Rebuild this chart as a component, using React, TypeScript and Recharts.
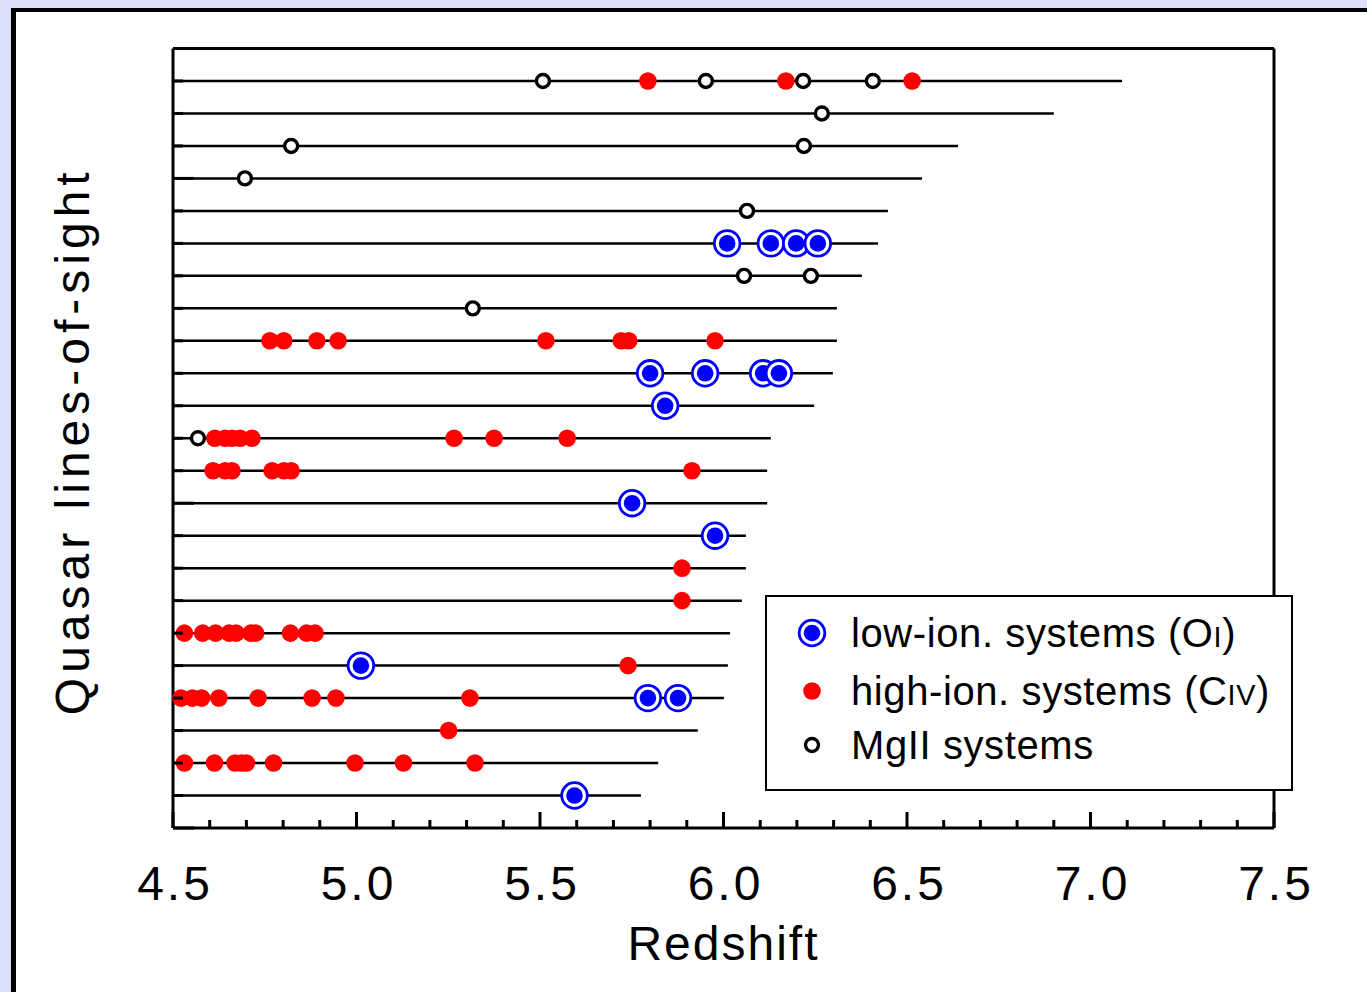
import React from "react";
import {
  Legend,
  ReferenceLine,
  Scatter,
  ScatterChart,
  XAxis,
  YAxis,
} from "recharts";

// Quasar sightlines, numbered from the bottom row (1) to the top row (23),
// each ending at the redshift of its quasar.
const sightlineEnds = [
  5.775, 5.822, 5.93, 6.001, 6.012, 6.018, 6.05, 6.061, 6.061, 6.119, 6.119, 6.129,
  6.247, 6.298, 6.309, 6.309, 6.377, 6.421, 6.448, 6.541, 6.639, 6.9, 7.086,
];

// Absorber redshifts along each sightline: [sightline, redshift]
const oiSystems: [number, number][] = [
  [1, 5.594],
  [4, 5.794], [4, 5.876],
  [5, 5.012],
  [9, 5.977],
  [10, 5.751],
  [13, 5.841],
  [14, 5.8], [14, 5.95], [14, 6.108], [14, 6.151],
  [18, 6.01], [18, 6.129], [18, 6.198], [18, 6.257],
];

const civSystems: [number, number][] = [
  [2, 4.531], [2, 4.613], [2, 4.669], [2, 4.686], [2, 4.7], [2, 4.774], [2, 4.996], [2, 5.128], [2, 5.323],
  [3, 5.251],
  [4, 4.522], [4, 4.553], [4, 4.578], [4, 4.625], [4, 4.732], [4, 4.879], [4, 4.944], [4, 5.309],
  [5, 5.74],
  [6, 4.531], [6, 4.581], [6, 4.616], [6, 4.653], [6, 4.672], [6, 4.712], [6, 4.725], [6, 4.82], [6, 4.864], [6, 4.887],
  [7, 5.887],
  [8, 5.887],
  [11, 4.609], [11, 4.642], [11, 4.661], [11, 4.77], [11, 4.802], [11, 4.822], [11, 5.914],
  [12, 4.614], [12, 4.642], [12, 4.661], [12, 4.683], [12, 4.715], [12, 5.266], [12, 5.375], [12, 5.574],
  [15, 4.764], [15, 4.802], [15, 4.892], [15, 4.95], [15, 5.516], [15, 5.721], [15, 5.742], [15, 5.977],
  [23, 5.794], [23, 6.17], [23, 6.514],
];

const mgiiSystems: [number, number][] = [
  [12, 4.568],
  [16, 5.317],
  [17, 6.056], [17, 6.238],
  [19, 6.064],
  [20, 4.696],
  [21, 4.822], [21, 6.219],
  [22, 6.268],
  [23, 5.508], [23, 5.952], [23, 6.217], [23, 6.407],
];

const redshiftTicks = Array.from({ length: 31 }, (_, i) => Math.round(45 + i) / 10);
const sightlineTicks = Array.from({ length: 25 }, (_, i) => i);

const FONT = "'Liberation Sans', Arial, Helvetica, sans-serif";
const BLUE = "#0000ff";
const RED = "#ff0000";

const toPoints = (list: [number, number][]) => list.map(([los, z]) => ({ los, z }));

const isMajorX = (v: number) => Math.round(v * 10) % 5 === 0;
const isMajorY = (v: number) => v % 10 === 0;

// ticks point inward from the frame
const BottomTick = ({ x, y, payload }: any) => {
  const major = isMajorX(payload.value);
  return (
    <g>
      <line x1={x} x2={x} y1={y} y2={y - (major ? 16 : 8)} stroke="#000" strokeWidth={3} />
      {major && (
        <text x={x + 2} y={y + 72} textAnchor="middle" fontSize={48} letterSpacing={3} fontFamily={FONT} fill="#000">
          {payload.value.toFixed(1)}
        </text>
      )}
    </g>
  );
};

const TopTick = ({ x, y, payload }: any) => (
  <line x1={x} x2={x} y1={y} y2={y + (isMajorX(payload.value) ? 16 : 8)} stroke="#000" strokeWidth={3} />
);

const LeftTick = ({ x, y, payload }: any) => (
  <line x1={x} x2={x + (isMajorY(payload.value) ? 21 : 10)} y1={y} y2={y} stroke="#000" strokeWidth={3} />
);

const RightTick = ({ x, y, payload }: any) => (
  <line x1={x} x2={x - (isMajorY(payload.value) ? 21 : 10)} y1={y} y2={y} stroke="#000" strokeWidth={3} />
);

const OiMarker = ({ cx, cy }: any) => (
  <g>
    <circle cx={cx} cy={cy} r={12.8} fill="#fff" stroke={BLUE} strokeWidth={2.8} />
    <circle cx={cx} cy={cy} r={8.3} fill={BLUE} />
  </g>
);

const CivMarker = ({ cx, cy }: any) => <circle cx={cx} cy={cy} r={8.8} fill={RED} />;

const MgiiMarker = ({ cx, cy }: any) => (
  <circle cx={cx} cy={cy} r={6.5} fill="#fff" stroke="#000" strokeWidth={3.4} />
);

const legendRows = [
  { key: "oi", top: 38, marker: <OiMarker cx={16} cy={16} />, label: <>low-ion. systems (O<span style={{ fontSize: "0.72em" }}>I</span>)</> },
  { key: "civ", top: 96, marker: <CivMarker cx={16} cy={16} />, label: <>high-ion. systems (C<span style={{ fontSize: "0.72em" }}>IV</span>)</> },
  { key: "mgii", top: 150, marker: <MgiiMarker cx={16} cy={16} />, label: <>MgII systems</> },
];

const renderLegend = () => (
  <div
    style={{
      position: "relative",
      width: 528,
      height: 196,
      boxSizing: "border-box",
      border: "2px solid #000",
      background: "#fff",
      fontFamily: FONT,
      fontSize: 40,
      letterSpacing: 0.6,
      color: "#000",
    }}
  >
    {legendRows.map((row) => (
      <div key={row.key}>
        <svg width={32} height={32} style={{ position: "absolute", left: 29, top: row.top - 18 }}>
          {row.marker}
        </svg>
        <div style={{ position: "absolute", left: 84, top: row.top - 22, lineHeight: "40px", whiteSpace: "nowrap" }}>
          {row.label}
        </div>
      </div>
    ))}
  </div>
);

export default function App() {
  return (
    <div style={{ position: "absolute", left: 0, top: 0, width: 1367, height: 992, overflow: "hidden", background: "#dcdff8" }}>
      <div
        style={{
          position: "absolute",
          left: 11,
          top: 8,
          width: 1400,
          height: 1000,
          borderTop: "4px solid #000",
          borderLeft: "5px solid #000",
          background: "#fff",
        }}
      />
      <div style={{ position: "absolute", left: 0, top: 0 }}>
        <ScatterChart width={1367} height={992} margin={{ top: 28.5, right: 73, bottom: 64, left: 73 }}>
          <XAxis
            xAxisId="b"
            type="number"
            dataKey="z"
            domain={[4.5, 7.5]}
            ticks={redshiftTicks}
            interval={0}
            height={100}
            tickSize={0}
            tickMargin={0}
            tick={<BottomTick />}
            axisLine={{ stroke: "#000", strokeWidth: 3 }}
            label={{
              content: ({ viewBox }: any) => (
                <text x={viewBox.x + viewBox.width / 2} y={960} textAnchor="middle" fontSize={48} letterSpacing={2} fontFamily={FONT} fill="#000">
                  Redshift
                </text>
              ),
            }}
          />
          <XAxis
            xAxisId="t"
            orientation="top"
            type="number"
            dataKey="z"
            domain={[4.5, 7.5]}
            ticks={redshiftTicks}
            interval={0}
            height={20}
            tickSize={0}
            tickMargin={0}
            tick={<TopTick />}
            axisLine={{ stroke: "#000", strokeWidth: 3 }}
          />
          <YAxis
            yAxisId="l"
            type="number"
            dataKey="los"
            domain={[0, 24]}
            ticks={sightlineTicks}
            interval={0}
            width={100}
            tickSize={0}
            tickMargin={0}
            tick={<LeftTick />}
            axisLine={{ stroke: "#000", strokeWidth: 3 }}
            label={{
              content: ({ viewBox }: any) => {
                const x = viewBox.x + 16;
                const y = viewBox.y + viewBox.height / 2 + 3;
                return (
                  <text x={x} y={y} transform={`rotate(-90 ${x} ${y})`} textAnchor="middle" fontSize={48} letterSpacing={5} fontFamily={FONT} fill="#000">
                    Quasar lines-of-sight
                  </text>
                );
              },
            }}
          />
          <YAxis
            yAxisId="r"
            orientation="right"
            type="number"
            dataKey="los"
            domain={[0, 24]}
            ticks={sightlineTicks}
            interval={0}
            width={20}
            tickSize={0}
            tickMargin={0}
            tick={<RightTick />}
            axisLine={{ stroke: "#000", strokeWidth: 3 }}
          />
          {sightlineEnds.map((end, i) => (
            <ReferenceLine
              key={i}
              xAxisId="b"
              yAxisId="l"
              segment={[{ x: 4.5, y: i + 1 }, { x: end, y: i + 1 }]}
              stroke="#000"
              strokeWidth={2.5}
            />
          ))}
          <Scatter name="high-ion. systems (CIV)" xAxisId="b" yAxisId="l" data={toPoints(civSystems)} shape={<CivMarker />} isAnimationActive={false} />
          <Scatter name="MgII systems" xAxisId="b" yAxisId="l" data={toPoints(mgiiSystems)} shape={<MgiiMarker />} isAnimationActive={false} />
          <Scatter name="low-ion. systems (OI)" xAxisId="b" yAxisId="l" data={toPoints(oiSystems)} shape={<OiMarker />} isAnimationActive={false} />
          <Legend
            layout="vertical"
            align="center"
            verticalAlign="middle"
            content={renderLegend}
            wrapperStyle={{ left: 765, top: 595, width: 528, height: 196 }}
          />
        </ScatterChart>
      </div>
    </div>
  );
}
